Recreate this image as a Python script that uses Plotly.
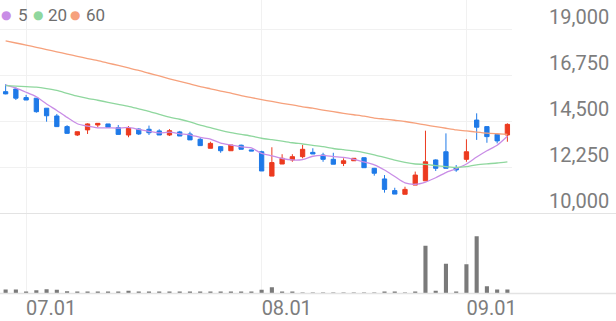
import plotly.graph_objects as go

W, H = 616, 321

dates = ["2025-06-27", "2025-06-30",
         "2025-07-01", "2025-07-02", "2025-07-03", "2025-07-04", "2025-07-07", "2025-07-08",
         "2025-07-09", "2025-07-10", "2025-07-11", "2025-07-14", "2025-07-15", "2025-07-16",
         "2025-07-17", "2025-07-18", "2025-07-21", "2025-07-22", "2025-07-23", "2025-07-24",
         "2025-07-25", "2025-07-28", "2025-07-29", "2025-07-30", "2025-07-31",
         "2025-08-01", "2025-08-04", "2025-08-05", "2025-08-06", "2025-08-07", "2025-08-08",
         "2025-08-11", "2025-08-12", "2025-08-13", "2025-08-14", "2025-08-18", "2025-08-19",
         "2025-08-20", "2025-08-21", "2025-08-22", "2025-08-25", "2025-08-26", "2025-08-27",
         "2025-08-28", "2025-08-29",
         "2025-09-01", "2025-09-02", "2025-09-03", "2025-09-04", "2025-09-05"]

open_ = [15960, 16090, 15670, 15640, 15150, 14770, 14250, 13840, 14090, 14330,
         14380, 14200, 13840, 14130, 14120, 14040, 13840, 13990, 13890, 13630,
         13190, 13270, 13070, 13340, 13110, 13020, 11830, 12420, 12620, 12780,
         12990, 12860, 12650, 12450, 12580, 12730, 12210, 11690, 11120, 10940,
         11390, 11600, 12620, 13020, 12240, 12650, 14570, 14250, 13870, 13840]
high = [16320, 16170, 15800, 15650, 15160, 14870, 14320, 14000, 14410, 14410,
        14380, 14330, 14280, 14170, 14300, 14120, 14130, 14040, 14000, 13690,
        13510, 13300, 13350, 13370, 13120, 13070, 13240, 12900, 12900, 13350,
        13190, 12970, 12970, 12700, 12700, 12730, 12230, 11880, 11260, 11310,
        12050, 14050, 12650, 13920, 12370, 13630, 14900, 14250, 13920, 14410]
low = [15830, 15550, 15550, 14930, 14490, 14230, 13910, 13790, 13890, 14220,
       14220, 13860, 13730, 13840, 13840, 13840, 13790, 13790, 13600, 13300,
       13190, 12970, 13070, 13140, 13060, 12080, 11830, 12420, 12530, 12700,
       12910, 12530, 12410, 12320, 12580, 12240, 11850, 11020, 10950, 10940,
       11390, 11600, 12080, 12210, 12040, 12530, 13600, 13460, 13430, 13510]
close = [15850, 15640, 15550, 14980, 14780, 14250, 13920, 14000, 14380, 14410,
         14220, 13870, 14170, 13890, 13950, 13840, 14050, 13790, 13600, 13320,
         13430, 13070, 13350, 13140, 13060, 12080, 12490, 12700, 12780, 13140,
         12910, 12650, 12410, 12580, 12700, 12240, 11970, 11180, 10950, 11180,
         11880, 12530, 12210, 12210, 12130, 13020, 14220, 13760, 13550, 14360]

ma5 = [16290, 16130, 15930, 15710, 15360, 15040, 14700, 14390, 14270, 14190,
       14190, 14180, 14210, 14110, 14020, 13940, 13980, 13900, 13850, 13720,
       13640, 13440, 13350, 13260, 13210, 12940, 12820, 12690, 12620, 12640,
       12800, 12840, 12780, 12740, 12650, 12520, 12380, 12130, 11810, 11500,
       11430, 11540, 11750, 12000, 12190, 12420, 12760, 13070, 13340, 13780]
ma20 = [16250, 16230, 16210, 16180, 16110, 16020, 15880, 15740, 15630, 15540,
        15440, 15340, 15240, 15120, 15000, 14850, 14710, 14610, 14480, 14320,
        14200, 14070, 13960, 13870, 13790, 13680, 13610, 13540, 13460, 13400,
        13330, 13270, 13180, 13120, 13060, 12980, 12870, 12740, 12610, 12500,
        12420, 12400, 12340, 12290, 12250, 12290, 12380, 12430, 12470, 12530]
ma60 = [18440, 18340, 18240, 18130, 18020, 17910, 17800, 17690, 17580, 17480,
        17360, 17240, 17120, 17000, 16860, 16730, 16590, 16460, 16340, 16210,
        16100, 15990, 15890, 15770, 15670, 15570, 15480, 15390, 15310, 15220,
        15150, 15060, 14980, 14900, 14830, 14760, 14670, 14620, 14560, 14500,
        14420, 14330, 14250, 14170, 14090, 14040, 13980, 13930, 13900, 13870]

volume = [40000, 40000, 20000, 33000, 43000, 37000, 23000, 20000, 17000, 13000,
          13000, 13000, 27000, 13000, 13000, 13000, 13000, 13000, 13000, 13000,
          13000, 13000, 13000, 13000, 13000, 37000, 63000, 13000, 13000, 10000,
          10000, 10000, 10000, 10000, 10000, 10000, 10000, 20000, 13000, 10000,
          20000, 477000, 27000, 297000, 20000, 293000, 573000, 73000, 40000, 40000]

x_tick_dates = ["2025-07-01", "2025-08-01", "2025-09-01"]
x_tick_labels = ["07.01", "08.01", "09.01"]
y_tick_vals = [10000, 12250, 14500, 16750, 19000]
y_tick_labels = ["10,000", "12,250", "14,500", "16,750", "19,000"]

ma_names = ["5", "20", "60"]
ma_colors = ["#c98de6", "#8fd79e", "#f6a17c"]

RED = "#ec3a1f"
BLUE = "#1f7ae8"
GRID = "#f1f1f1"
BORDER = "#e3e3e3"
LABEL = "#7d7d7d"
FONT = "Roboto"

fig = go.Figure()

fig.add_trace(go.Candlestick(
    x=dates, open=open_, high=high, low=low, close=close,
    increasing=dict(line=dict(color=RED, width=1), fillcolor=RED),
    decreasing=dict(line=dict(color=BLUE, width=1), fillcolor=BLUE),
    whiskerwidth=0, xaxis="x", yaxis="y", showlegend=False, hoverinfo="skip"))

for name, vals, col in zip(ma_names, [ma5, ma20, ma60], ma_colors):
    fig.add_trace(go.Scatter(x=dates, y=vals, mode="lines", name=name,
                             line=dict(color=col, width=1.3, shape="spline", smoothing=0.6),
                             xaxis="x", yaxis="y", showlegend=False, hoverinfo="skip"))

fig.add_trace(go.Bar(x=dates, y=volume, marker=dict(color="#7a7a7a", line=dict(width=0)),
                     xaxis="x2", yaxis="y2", showlegend=False, hoverinfo="skip"))

px_per_won = 184 / 9000.0
price_bottom_px = 213.5
vol_bottom_px = 293.5
ytop = 10000 + price_bottom_px / px_per_won
xdom = [0, 512 / W]
price_dom = [(H - price_bottom_px) / H, 1]
vol_dom = [(H - vol_bottom_px) / H, (H - price_bottom_px) / H]

fig.update_layout(
    width=W, height=H,
    margin=dict(l=0, r=0, t=0, b=0, autoexpand=False),
    paper_bgcolor="white", plot_bgcolor="white",
    boxgap=0.4, bargap=0.6,
    font=dict(family=FONT, color=LABEL),
    xaxis=dict(domain=xdom, type="category", range=[-0.55, 49.45], anchor="y",
               showticklabels=False, tickvals=x_tick_dates, ticks="", automargin=False,
               showgrid=True, gridcolor=GRID, gridwidth=1, zeroline=False,
               showline=False, rangeslider=dict(visible=False)),
    xaxis2=dict(domain=xdom, type="category", range=[-0.55, 49.45], anchor="y2",
                tickvals=x_tick_dates, ticktext=x_tick_labels, ticks="", automargin=False,
                ticklabelposition="outside right",
                tickfont=dict(family=FONT, size=20, color=LABEL),
                showgrid=True, gridcolor=GRID, gridwidth=1, zeroline=False, showline=False),
    yaxis=dict(domain=price_dom, range=[10000, ytop], anchor="x", side="right",
               tickvals=y_tick_vals, ticktext=y_tick_labels, ticks="", automargin=False,
               tickfont=dict(family=FONT, size=20, color=LABEL),
               ticklabelstandoff=36, ticklabelshift=-13,
               showgrid=True, gridcolor=GRID, gridwidth=1, zeroline=False, showline=False),
    yaxis2=dict(domain=vol_dom, range=[0, 800000], anchor="x2", automargin=False,
                showticklabels=False, showgrid=False, zeroline=False, showline=False),
    shapes=[
        dict(type="line", xref="paper", yref="paper", x0=0, x1=1,
             y0=price_dom[0], y1=price_dom[0], line=dict(color=BORDER, width=1)),
        dict(type="line", xref="paper", yref="paper", x0=0, x1=1,
             y0=vol_dom[0], y1=vol_dom[0], line=dict(color=BORDER, width=1.5)),
    ],
)

# legend (dots + labels)
dot_x = [5.5, 37.5, 74.5]
txt_x = [15.5, 46, 83.5]
ly = 1 - 15.5 / H
for name, col, dx, tx in zip(ma_names, ma_colors, dot_x, txt_x):
    fig.add_annotation(x=dx / W, y=ly, xref="paper", yref="paper", text="●",
                       showarrow=False, xanchor="center", yanchor="middle",
                       font=dict(family="DejaVu Sans", size=12, color=col))
    fig.add_annotation(x=tx / W, y=ly, xref="paper", yref="paper", text=name,
                       showarrow=False, xanchor="left", yanchor="middle",
                       font=dict(family=FONT, size=17, color="#6e6e6e"))

fig.write_html("out.html")
